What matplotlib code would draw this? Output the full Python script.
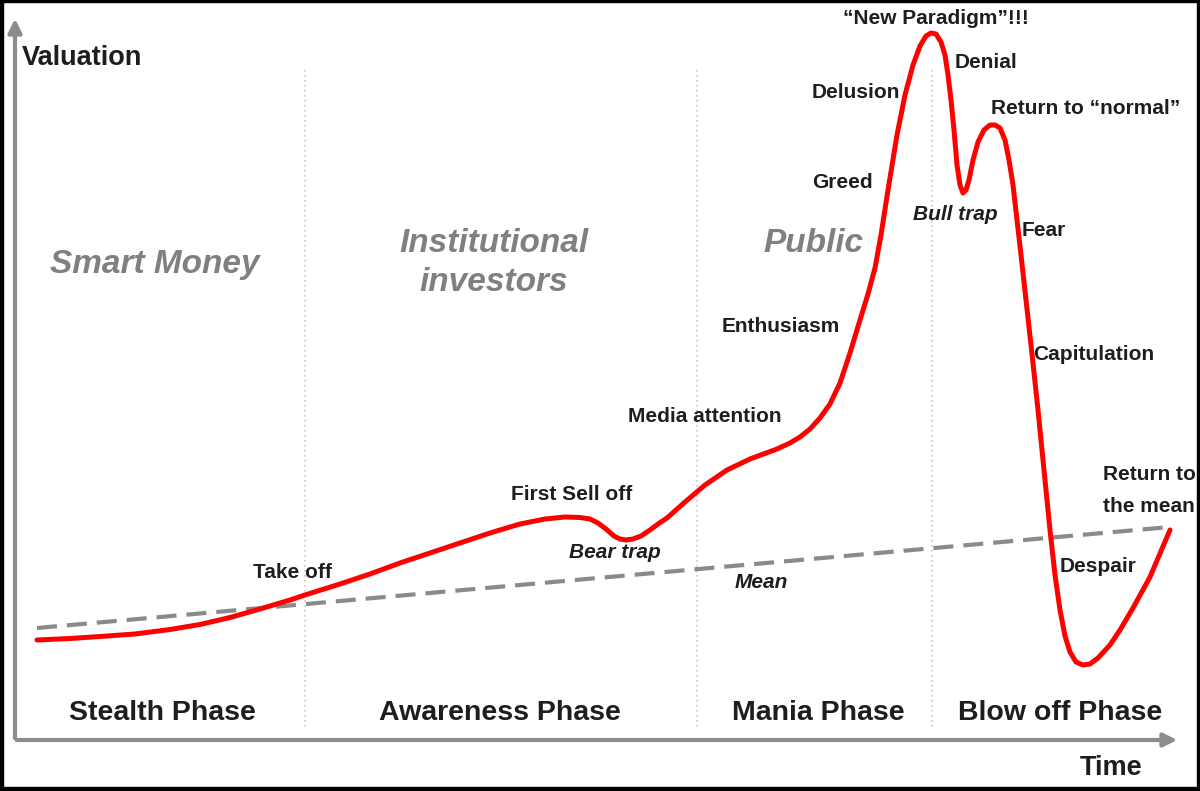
import matplotlib
matplotlib.use('Agg')
import matplotlib.pyplot as plt
from matplotlib.patches import Rectangle, FancyArrowPatch
import numpy as np

plt.rcParams['font.family'] = ['Liberation Sans', 'DejaVu Sans']

# --- curve (x = time, y = valuation, picture units) ---
curve_x = [37, 70, 100, 135, 170, 200, 230, 260, 290, 305, 340, 370, 400, 430,
           460, 490, 520, 545, 565, 580, 590, 598, 606, 614, 620, 626, 633, 641,
           650, 658, 667, 685, 705, 727, 750, 777, 790, 800, 810, 820, 830, 840,
           850, 860, 868, 875, 881, 888, 897, 905, 913, 920, 926, 931, 936, 941,
           945, 948, 951, 954, 957, 960, 963, 966, 969, 973, 978, 984, 990, 995,
           1000, 1005, 1009, 1013, 1017, 1021, 1026, 1032, 1038, 1044, 1050,
           1055, 1060, 1065, 1070, 1076, 1083, 1090, 1098, 1110, 1120, 1133,
           1150, 1170]
curve_y = [640, 638.5, 636.5, 634, 629.5, 624.5, 617.5, 609, 600, 595, 584, 574,
           563, 553, 543, 533, 524, 519, 517, 517.5, 519, 523, 529, 536, 539, 540,
           539, 536, 530, 524, 518, 502, 485, 470, 459, 449, 443, 437, 429, 418,
           404, 383, 353, 320, 294, 268, 235, 190, 135, 95, 65, 46, 36, 33, 34,
           42, 55, 75, 100, 130, 165, 185, 193, 190, 180, 160, 142, 130, 125, 125,
           128, 140, 160, 185, 220, 255, 300, 354, 410, 470, 530,
           575, 610, 636, 652, 662, 665, 664, 658, 645, 630, 608, 577, 530]

mean_x = [37, 1170]
mean_y = [628, 527]

separators = [305, 697, 932]

phases = ['Stealth Phase', 'Awareness Phase', 'Mania Phase', 'Blow off Phase']
phase_x = [162, 500, 818, 1060]

groups = ['Smart Money', 'Institutional\ninvestors', 'Public']
group_x = [155, 494, 813]
group_y = [265, 263, 243]

# label, left x, centre y, italic
labels = [
    ('Take off', 253, 573, False),
    ('First Sell off', 511, 494, False),
    ('Bear trap', 569, 553, True),
    ('Mean', 735, 583, True),
    ('Media attention', 628, 416, False),
    ('Enthusiasm', 722, 327, False),
    ('Greed', 812, 182, False),
    ('Delusion', 812, 93, False),
    ('\u201cNew Paradigm\u201d!!!', 843, 19, False),
    ('Denial', 955, 63, False),
    ('Return to \u201cnormal\u201d', 991, 108, False),
    ('Bull trap', 913, 215, True),
    ('Fear', 1022, 231, False),
    ('Capitulation', 1033, 354, False),
    ('Despair', 1060, 567, False),
    ('Return to', 1103, 474, False),
    ('the mean', 1103, 506, False),
]

W, H = 1200, 791
fig = plt.figure(figsize=(12, 7.91), dpi=100)
ax = fig.add_axes([0, 0, 1, 1])
ax.set_xlim(0, W)
ax.set_ylim(H, 0)
ax.axis('off')

txt = '#1e1e1e'
grey = '#808080'

# phase separators
for sx in separators:
    ax.plot([sx, sx], [70, 728], color='#c8c8c8', lw=1.2, ls=(0, (1, 2)), zorder=1)

# mean line
ax.plot(mean_x, mean_y, color='#8a8a8a', lw=3, ls=(0, (4.8, 2.4)), zorder=2)

# main curve
ax.plot(curve_x, curve_y, color='#ff0000', lw=3.6, solid_joinstyle='round',
        solid_capstyle='round', zorder=3)

# axes arrows
ax.add_patch(FancyArrowPatch((15, 741), (15, 16), arrowstyle='-|>', mutation_scale=20,
                             color='#8c8c8c', lw=3, zorder=4))
ax.add_patch(FancyArrowPatch((14, 740), (1180, 740), arrowstyle='-|>', mutation_scale=20,
                             color='#8c8c8c', lw=3, zorder=4))

ax.text(22, 58, 'Valuation', fontsize=19.5, fontweight='bold', color=txt,
        ha='left', va='center')
ax.text(1080, 768, 'Time', fontsize=19.5, fontweight='bold', color=txt,
        ha='left', va='center')

for name, px in zip(phases, phase_x):
    ax.text(px, 713, name, fontsize=20.5, fontweight='bold', color=txt,
            ha='center', va='center')

for name, gx, gy in zip(groups, group_x, group_y):
    ax.text(gx, gy, name, fontsize=24, fontweight='bold', style='italic',
            color=grey, ha='center', va='center', linespacing=1.3)

for s, lx, ly, it in labels:
    ax.text(lx, ly, s, fontsize=15, fontweight='bold',
            style='italic' if it else 'normal', color=txt,
            ha='left', va='center')

# black frame around the picture
for r in [(0, 0, W, 2), (0, 0, 3, H), (1197, 0, 3, H), (0, 787, W, 4)]:
    ax.add_patch(Rectangle((r[0], r[1]), r[2], r[3], color='black', zorder=10))

fig.savefig('out.png', dpi=100)
